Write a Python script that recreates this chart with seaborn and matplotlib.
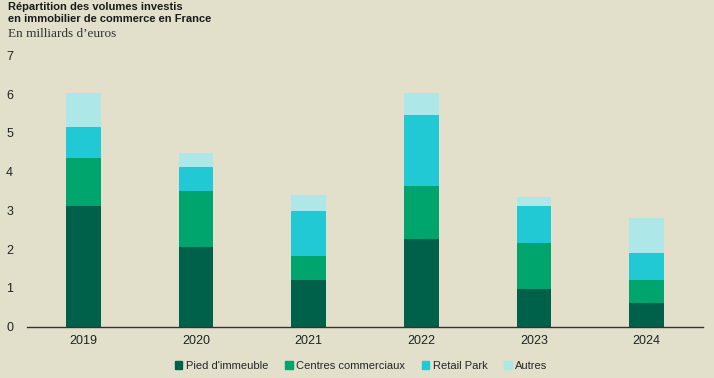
import pandas as pd
import matplotlib.pyplot as plt
import matplotlib.patches as mpatches
import seaborn as sns

# Values (billions of euros)
years = ["2019", "2020", "2021", "2022", "2023", "2024"]
pied = [3.10, 2.04, 1.20, 2.27, 0.97, 0.60]
centres = [1.25, 1.46, 0.63, 1.36, 1.19, 0.59]
retail = [0.81, 0.61, 1.16, 1.84, 0.94, 0.71]
autres = [0.87, 0.38, 0.41, 0.56, 0.24, 0.90]

categories = ["Pied d'immeuble", "Centres commerciaux", "Retail Park", "Autres"]
colors = ["#00614B", "#00A46D", "#20C9D3", "#AEE7E7"]
bg = "#E2E0CA"

df = pd.DataFrame({"Année": years, categories[0]: pied, categories[1]: centres,
                   categories[2]: retail, categories[3]: autres})
cum = df[categories].cumsum(axis=1)
cum["Année"] = years

sns.set_style("white")
plt.rcParams["font.family"] = ["Liberation Sans", "DejaVu Sans"]

fig = plt.figure(figsize=(7.14, 3.78), dpi=100, facecolor=bg)
ax = fig.add_axes([27 / 714, 1 - 326.5 / 378, 676 / 714, 275 / 378])
ax.set_facecolor(bg)

# draw cumulative totals from the top down so each layer shows
for cat, col in reversed(list(zip(categories, colors))):
    sns.barplot(data=cum, x="Année", y=cat, color=col, width=0.31,
                saturation=1, ax=ax, linewidth=0)

ax.set_xlim(-0.5, 5.5)
ax.set_ylim(0, 7.1)
ax.set_yticks(range(8))
ax.set_xlabel("")
ax.set_ylabel("")
for s in ["top", "right", "left"]:
    ax.spines[s].set_visible(False)
ax.spines["bottom"].set_color("#333333")
ax.spines["bottom"].set_linewidth(1)
ax.tick_params(axis="both", length=0, labelsize=9, colors="#222222")
ax.tick_params(axis="y", pad=10)
ax.tick_params(axis="x", pad=6)
for lbl in ax.get_yticklabels():
    lbl.set_horizontalalignment("right")

fig.text(8 / 714, 1 - 2 / 378, "Répartition des volumes investis\nen immobilier de commerce en France",
         fontsize=8, fontweight="bold", va="top", ha="left", color="#1a1a1a",
         linespacing=1.2)
fig.text(8 / 714, 1 - 34 / 378, "En milliards d’euros", fontsize=9.5,
         family="Liberation Serif", va="center", ha="left", color="#333333")

handles = [mpatches.Patch(color=c, label=l) for l, c in zip(categories, colors)]
fig.legend(handles=handles, loc="center", bbox_to_anchor=(361 / 714, 1 - 366 / 378),
           ncol=4, frameon=False, fontsize=8, handlelength=0.7, handleheight=0.7,
           handletextpad=0.3, columnspacing=1.5)

fig.savefig("out.png", dpi=100, facecolor=bg)
